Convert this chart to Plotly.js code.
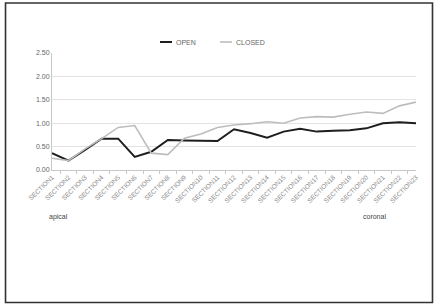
<!DOCTYPE html>
<html><head><meta charset="utf-8">
<script src="https://cdn.plot.ly/plotly-3.0.1.min.js"></script>
<style>html,body{margin:0;padding:0;background:#fff}#c{width:440px;height:308px}</style>
</head><body><div id="c"></div>
<script>
const categories = ["SECTION1","SECTION2","SECTION3","SECTION4","SECTION5","SECTION6","SECTION7","SECTION8","SECTION9","SECTION10","SECTION11","SECTION12","SECTION13","SECTION14","SECTION15","SECTION16","SECTION17","SECTION18","SECTION19","SECTION20","SECTION21","SECTION22","SECTION23"];
const openVals = [0.36,0.20,0.43,0.67,0.67,0.28,0.39,0.64,0.63,0.62,0.62,0.87,0.79,0.69,0.82,0.88,0.82,0.84,0.85,0.89,1.00,1.02,1.00];
const closedVals = [0.25,0.20,0.45,0.67,0.91,0.95,0.36,0.33,0.68,0.77,0.91,0.96,0.99,1.03,1.00,1.11,1.14,1.13,1.19,1.24,1.21,1.37,1.45];
const yTicks = [0,0.5,1,1.5,2,2.5];
const seriesNames = ["OPEN","CLOSED"];
const seriesColors = ["#1e1e1e","#bdbdbd"];

const traces = [
  {x: categories, y: openVals, name: seriesNames[0], type: "scatter", mode: "lines",
   line: {color: seriesColors[0], width: 2}, showlegend: false},
  {x: categories, y: closedVals, name: seriesNames[1], type: "scatter", mode: "lines",
   line: {color: seriesColors[1], width: 1.6}, showlegend: false}
];
const legY = 1.094;
const legX = [0.2967, 0.4615];
const legLen = 0.033;
const shapes = [
  {type: "rect", xref: "paper", yref: "paper", x0: -0.1277, x1: 1.0453, y0: -1.132, y1: 1.427,
   line: {color: "#333", width: 1.6}, fillcolor: "rgba(0,0,0,0)"}
];
const annotations = [
  {text: "apical", xref: "paper", yref: "paper", x: 0.017, y: -0.40, xanchor: "center", yanchor: "middle",
   showarrow: false, font: {size: 7, color: "#444"}},
  {text: "coronal", xref: "paper", yref: "paper", x: 0.887, y: -0.40, xanchor: "center", yanchor: "middle",
   showarrow: false, font: {size: 7, color: "#444"}}
];
seriesNames.forEach((n, i) => {
  shapes.push({type: "line", xref: "paper", yref: "paper", x0: legX[i], x1: legX[i] + legLen, y0: legY, y1: legY,
    line: {color: seriesColors[i], width: i === 0 ? 2 : 1.6}});
  annotations.push({text: n, xref: "paper", yref: "paper", x: legX[i] + legLen + 0.006, y: legY,
    xanchor: "left", yanchor: "middle", showarrow: false, font: {size: 7, color: "#666"}});
});

const layout = {
  width: 440, height: 308,
  margin: {l: 52, r: 24, t: 53, b: 138},
  paper_bgcolor: "#fff", plot_bgcolor: "#fff",
  font: {family: "Liberation Sans, Arial, sans-serif", size: 7, color: "#555"},
  showlegend: false,
  xaxis: {type: "category", showgrid: false, showline: true, linecolor: "#c8c8c8", linewidth: 1,
    ticks: "outside", tickson: "boundaries", ticklen: 3, tickcolor: "#c8c8c8",
    tickangle: -45, tickfont: {size: 6.5, color: "#888"}, zeroline: false, fixedrange: true},
  yaxis: {range: [0, 2.5], tickvals: yTicks, tickformat: ".2f", showgrid: true, gridcolor: "#e3e3e3",
    showline: true, linecolor: "#c8c8c8", linewidth: 1, ticks: "", zeroline: false,
    tickfont: {size: 7, color: "#666"}, fixedrange: true},
  annotations: annotations,
  shapes: shapes
};
Plotly.newPlot("c", traces, layout, {displayModeBar: false, staticPlot: true});
</script></body></html>
